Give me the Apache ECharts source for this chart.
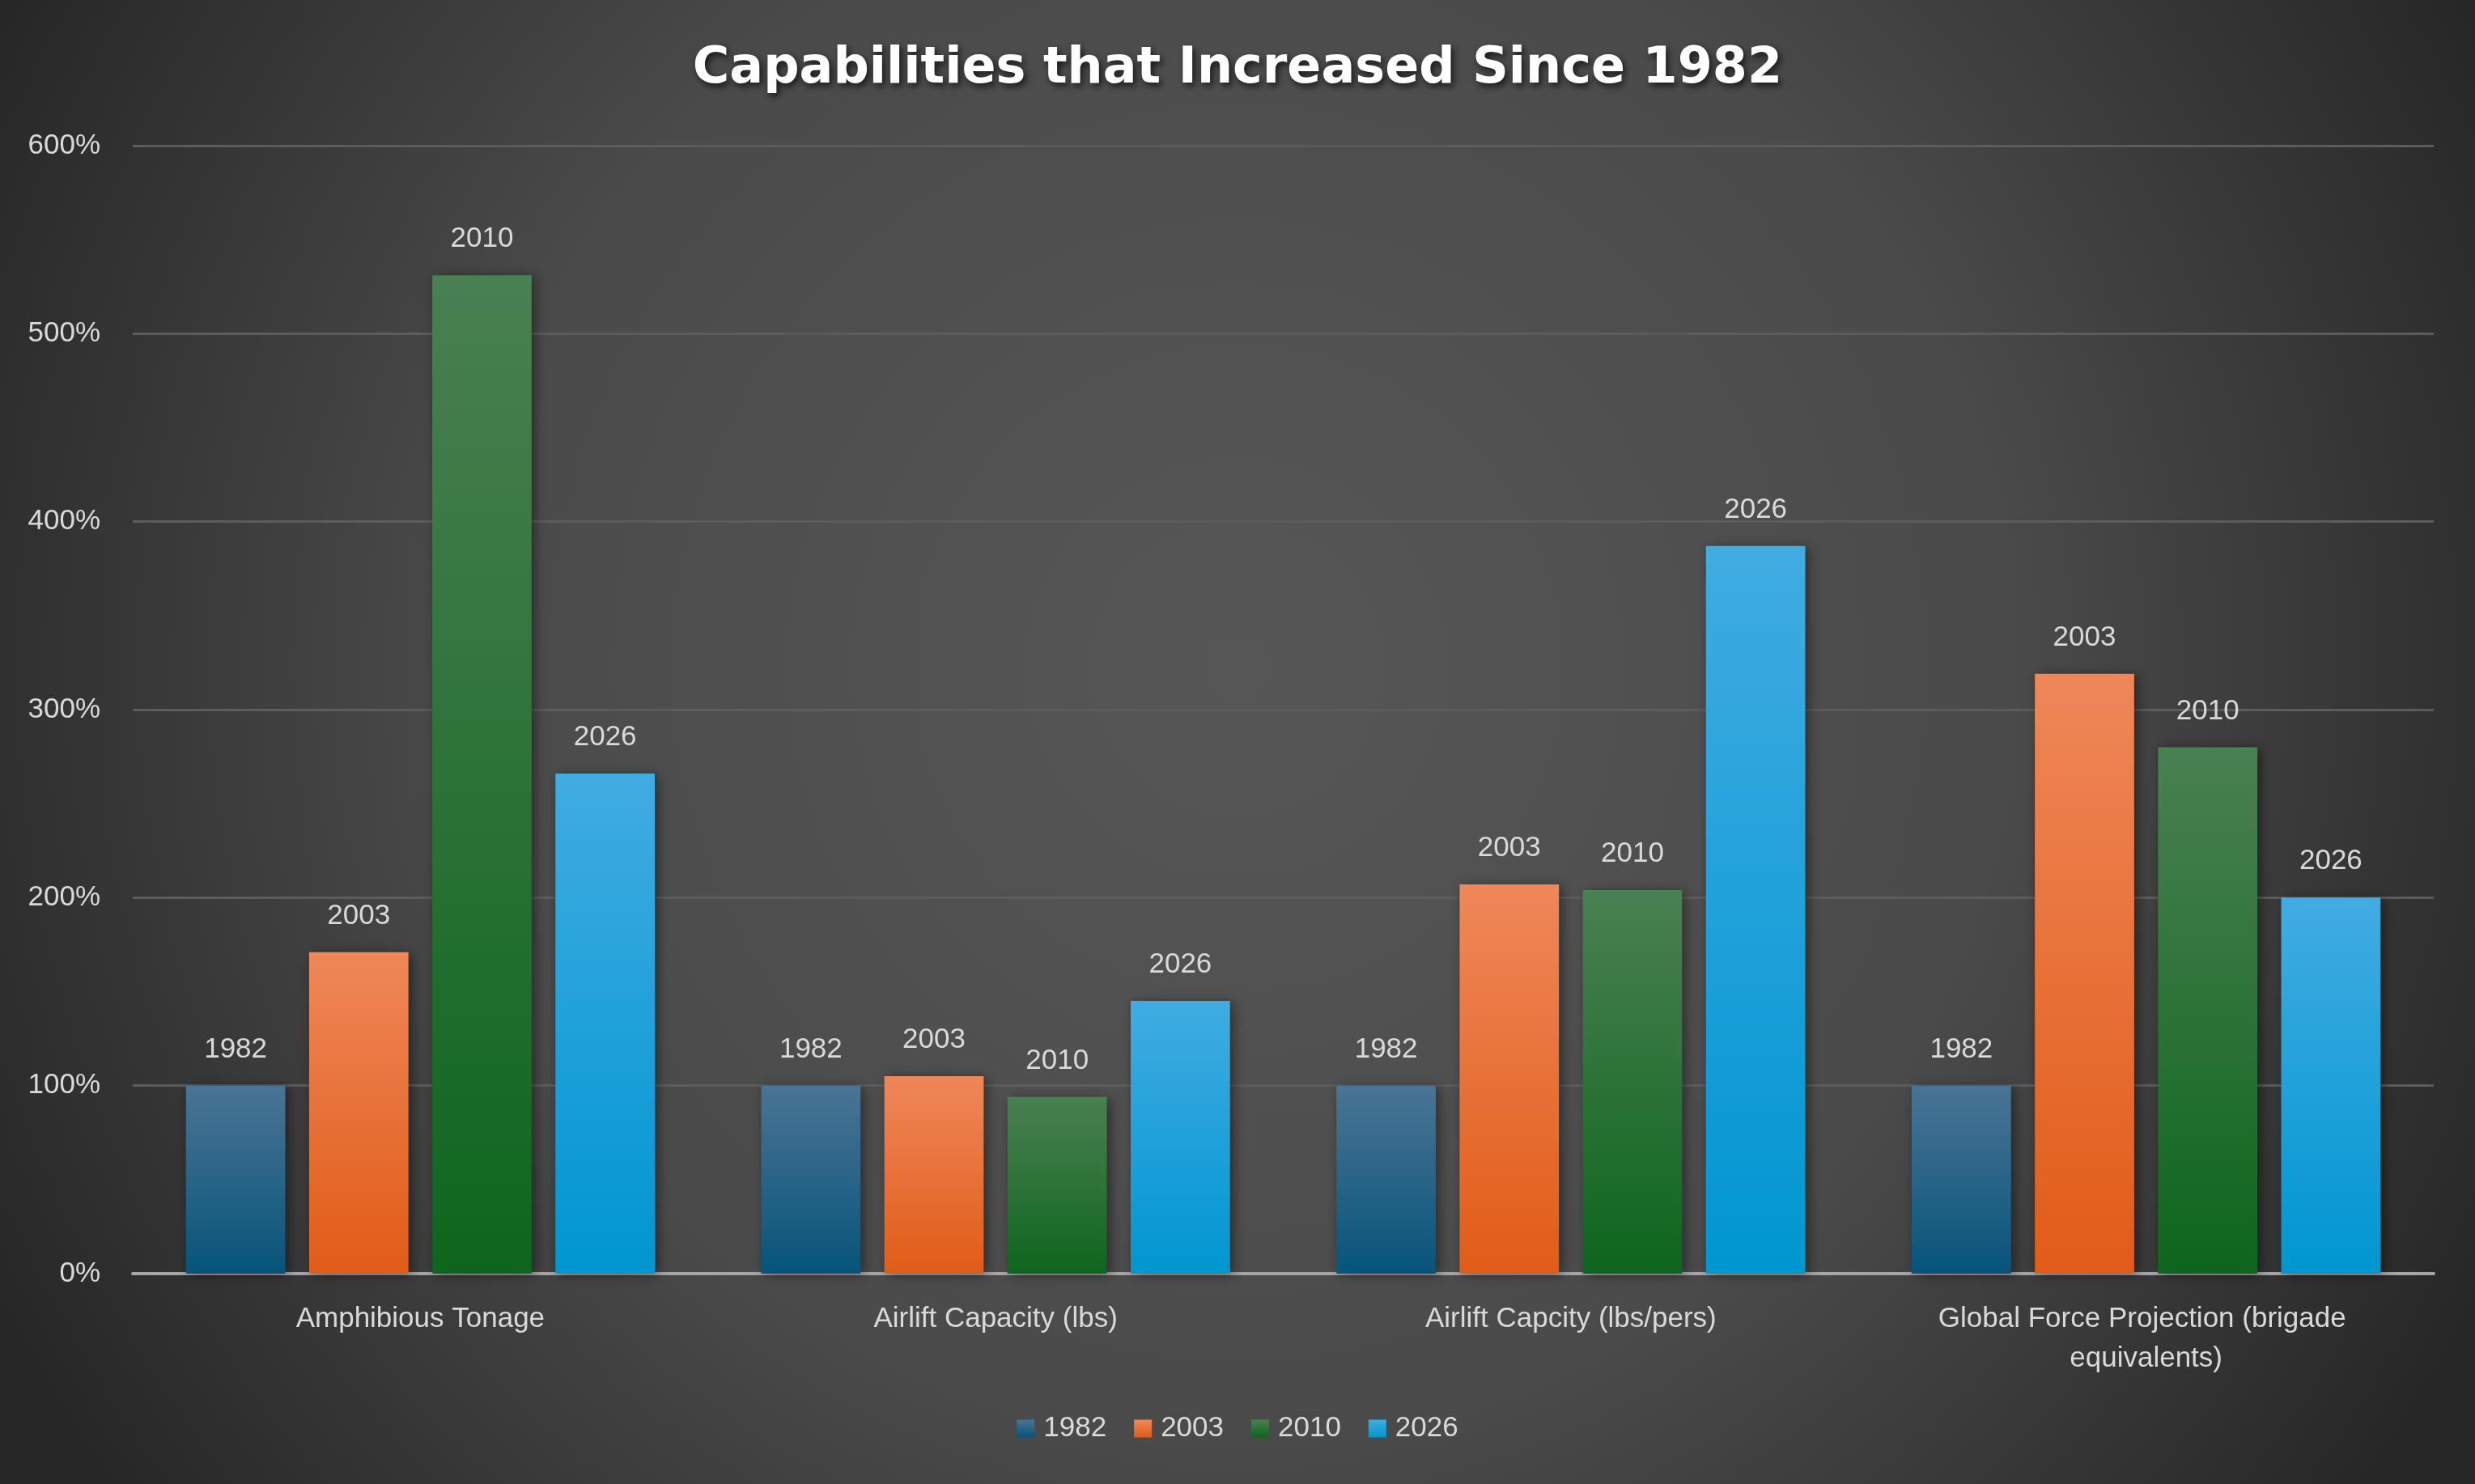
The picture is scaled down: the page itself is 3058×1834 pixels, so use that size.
<!DOCTYPE html>
<html>
<head>
<meta charset="utf-8">
<script src="https://cdn.jsdelivr.net/npm/echarts@6/dist/echarts.min.js"></script>
<style>
  html, body { margin: 0; padding: 0; background: #333; }
  #chart { width: 3058px; height: 1834px; }
</style>
</head>
<body>
<div id="chart"></div>
<script>
var categories = ['Amphibious Tonage', 'Airlift Capacity (lbs)', 'Airlift Capcity (lbs/pers)', 'Global Force Projection (brigade equivalents)'];
var years = ['1982', '2003', '2010', '2026'];
var v1982 = [100, 100, 100, 100];
var v2003 = [171, 105, 207, 319];
var v2010 = [531, 94, 204, 280];
var v2026 = [266, 145, 387, 200];
var yTicks = [0, 100, 200, 300, 400, 500, 600];

var values = [v1982, v2003, v2010, v2026];
var gradients = [
  ['#4a7494', '#06547a'],
  ['#ef8759', '#e15c17'],
  ['#4a8052', '#0d661d'],
  ['#40ace2', '#0096d1']
];

var chart = echarts.init(document.getElementById('chart'));
var textColor = '#d9d9d9';
var fontFamily = 'Liberation Sans';

var series = years.map(function (y, i) {
  return {
    name: y,
    type: 'bar',
    data: values[i],
    barGap: '24%',
    barCategoryGap: '18.5%',
    itemStyle: {
      color: new echarts.graphic.LinearGradient(0, 0, 0, 1, [
        { offset: 0, color: gradients[i][0] },
        { offset: 1, color: gradients[i][1] }
      ]),
      shadowColor: 'rgba(0,0,0,0.45)',
      shadowBlur: 14,
      shadowOffsetX: 4,
      shadowOffsetY: 2
    },
    label: {
      show: true,
      position: 'top',
      distance: 27,
      formatter: '{a}',
      color: textColor,
      fontSize: 35,
      fontFamily: fontFamily
    }
  };
});

chart.setOption({
  backgroundColor: {
    type: 'radial', x: 0.5, y: 0.45, r: 0.95,
    colorStops: [
      { offset: 0, color: '#575757' },
      { offset: 0.55, color: '#4a4a4a' },
      { offset: 1, color: '#262626' }
    ]
  },
  title: {
    text: 'Capabilities that Increased Since 1982',
    left: 'center',
    top: 50,
    textStyle: {
      color: '#ffffff',
      fontSize: 62,
      fontWeight: 'bold',
      fontFamily: 'DejaVu Sans',
      textShadowColor: 'rgba(0,0,0,0.7)',
      textShadowBlur: 8,
      textShadowOffsetX: 3,
      textShadowOffsetY: 4
    }
  },
  legend: {
    data: years,
    bottom: 46,
    left: 'center',
    itemWidth: 22,
    itemHeight: 22,
    itemGap: 34,
    icon: 'rect',
    textStyle: { color: textColor, fontSize: 35, fontFamily: fontFamily, padding: [0, 0, 0, 6] }
  },
  grid: { left: 164, right: 51, top: 180, bottom: 260, containLabel: false },
  xAxis: {
    type: 'category',
    data: categories,
    axisTick: { show: false },
    axisLine: { lineStyle: { color: '#a6a6a6', width: 4 } },
    axisLabel: {
      color: textColor,
      fontSize: 35,
      fontFamily: fontFamily,
      margin: 32,
      lineHeight: 49,
      width: 600,
      overflow: 'break',
      interval: 0
    }
  },
  yAxis: {
    type: 'value',
    min: yTicks[0],
    max: yTicks[yTicks.length - 1],
    interval: 100,
    axisLine: { show: false },
    axisTick: { show: false },
    splitLine: { lineStyle: { color: '#5c5c5c', width: 3 } },
    axisLabel: {
      color: textColor,
      fontSize: 35,
      fontFamily: fontFamily,
      margin: 40,
      formatter: '{value}%'
    }
  },
  series: series
});
</script>
</body>
</html>
